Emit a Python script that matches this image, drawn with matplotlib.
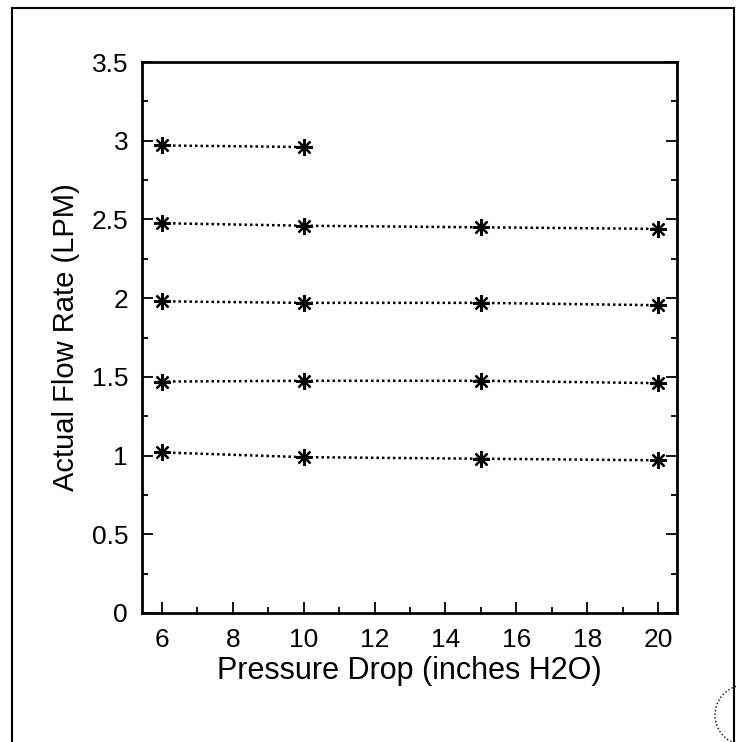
import matplotlib
matplotlib.use("Agg")
import matplotlib.pyplot as plt
from matplotlib.ticker import MultipleLocator
from matplotlib.patches import Rectangle, Arc

plt.rcParams['font.family'] = ['Liberation Sans', 'DejaVu Sans']

pressure = [6, 10, 15, 20]
series = [
    [2.97, 2.96],
    [2.476, 2.46, 2.45, 2.44],
    [1.98, 1.97, 1.97, 1.955],
    [1.47, 1.475, 1.475, 1.46],
    [1.02, 0.99, 0.98, 0.97],
]
xticks = [6, 8, 10, 12, 14, 16, 18, 20]
yticks = [0, 0.5, 1, 1.5, 2, 2.5, 3, 3.5]
ytick_labels = ['0', '0.5', '1', '1.5', '2', '2.5', '3', '3.5']

W, H = 736, 742
fig = plt.figure(figsize=(W/100, H/100), dpi=100)
L, R, T, B = 142, 677, 62, 613
ax = fig.add_axes([L/W, 1-B/H, (R-L)/W, (B-T)/H])

for s in series:
    ax.plot(pressure[:len(s)], s, linestyle=(0, (1, 1.2)), color='black', linewidth=1.8,
            marker=(8, 2, 0), markersize=12, markeredgewidth=1.6, markeredgecolor='black')

ax.set_xlim(5.435, 20.536)
ax.set_ylim(0, 3.5)
ax.set_xticks(xticks)
ax.set_yticks(yticks)
ax.set_yticklabels(ytick_labels)
ax.xaxis.set_minor_locator(MultipleLocator(1))
ax.yaxis.set_minor_locator(MultipleLocator(0.25))
ax.tick_params(which='major', direction='in', length=8, width=1.3, labelsize=19, colors='black')
ax.tick_params(axis='x', which='major', pad=11)
ax.tick_params(axis='y', which='major', pad=10)
ax.tick_params(which='minor', direction='in', length=4, width=1.3)
ax.tick_params(axis='y', right=True, which='both')
for sp in ax.spines.values():
    sp.set_linewidth(2)
ax.set_xlabel('Pressure Drop (inches H2O)', fontsize=22, labelpad=3)
ax.set_ylabel('Actual Flow Rate (LPM)', fontsize=21, labelpad=8)

# outer frame of the scanned page
fig.patches.append(Rectangle((12/W, -0.05), (734-12)/W, 1.05 - 8/H, transform=fig.transFigure,
                             fill=False, edgecolor='black', linewidth=1.5))
fig.patches.append(Arc((745/W, 1-715/H), 60/W, 60/H, theta1=100, theta2=260,
                       transform=fig.transFigure, edgecolor='black', linewidth=1, linestyle=':'))

fig.savefig('out.png', dpi=100)
